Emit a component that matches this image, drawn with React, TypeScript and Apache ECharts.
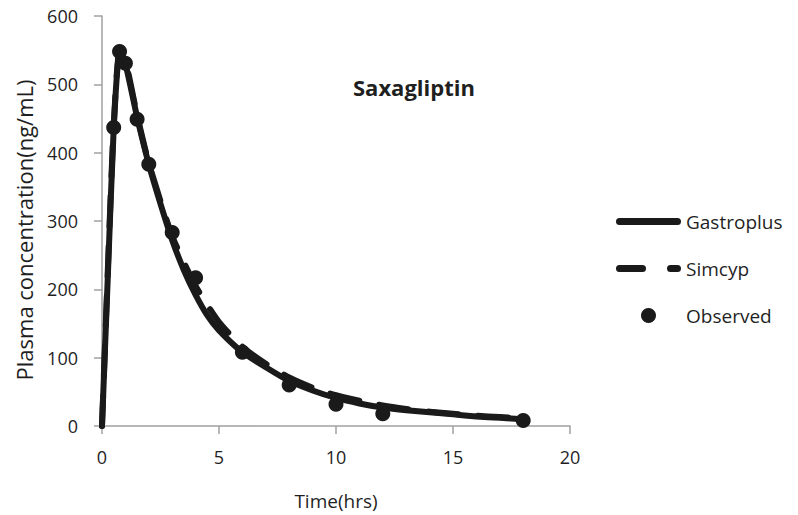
import React, { useEffect, useRef } from "react";
import * as echarts from "echarts";

const gastroTimes = [0, 0.25, 0.5, 0.75, 1, 1.5, 2, 2.5, 3, 3.5, 4, 4.5, 5, 6, 7, 8, 9, 10, 11, 12, 13, 14, 15, 16, 17, 18];
const gastroValues = [0, 220, 435, 545, 530, 452, 383, 325, 272, 228, 192, 162, 140, 108, 86, 66, 52, 41, 33, 27, 23, 20, 17, 14, 12, 10];

const simcypTimes = [0, 0.25, 0.5, 0.75, 1, 1.5, 2, 3, 4, 5, 6, 7, 8, 9, 10, 11, 12, 13, 14, 15, 16, 17, 18];
const simcypValues = [0, 230, 440, 548, 535, 455, 385, 278, 205, 152, 116, 91, 71, 56, 45, 37, 30, 25, 21, 18, 15, 13, 11];

const observedTimes = [0.5, 0.75, 1, 1.5, 2, 3, 4, 6, 8, 10, 12, 18];
const observedValues = [437, 548, 531, 449, 383, 283, 217, 108, 60, 32, 18, 8];

const xTicks = { min: 0, max: 20, interval: 5 };
const yTicks = { min: 0, max: 600, interval: 100 };

const FONT = "'Open Sans', 'Noto Sans', sans-serif";
const TEXT = "#1f1f1f";
const AXIS = "#a0a0a0";
const INK = "#1a1a1a";

const SOLID_ICON = "path://M3.5,0 L61.5,0 A3.5,3.5 0 0 1 61.5,7 L3.5,7 A3.5,3.5 0 0 1 3.5,0 Z";
const DASH_ICON =
  "path://M3.5,0 L26.5,0 A3.5,3.5 0 0 1 26.5,7 L3.5,7 A3.5,3.5 0 0 1 3.5,0 Z M54.5,0 L61.5,0 A3.5,3.5 0 0 1 61.5,7 L54.5,7 A3.5,3.5 0 0 1 54.5,0 Z";

export default function App() {
  const ref = useRef<HTMLDivElement>(null);
  useEffect(() => {
    if (!ref.current) return;
    const chart = echarts.init(ref.current, null, { renderer: "svg" });
    const zip = (a: number[], b: number[]) => a.map((t, i) => [t, b[i]]);
    chart.setOption({
      animation: false,
      backgroundColor: "#ffffff",
      textStyle: { fontFamily: FONT },
      title: {
        text: "Saxagliptin",
        left: 348,
        top: 71,
        textStyle: { fontFamily: FONT, fontSize: 22, fontWeight: "bold", color: TEXT },
      },
      grid: { left: 102, right: 228, top: 16, bottom: 88, containLabel: false },
      legend: {
        orient: "vertical",
        left: 611,
        top: 207,
        itemWidth: 65,
        itemHeight: 15,
        itemGap: 28,
        symbolKeepAspect: true,
        textStyle: { fontFamily: FONT, fontSize: 19, color: TEXT, lineHeight: 15 },
        data: [
          { name: "Gastroplus", icon: SOLID_ICON, itemStyle: { color: INK } },
          { name: "Simcyp", icon: DASH_ICON, itemStyle: { color: INK } },
          { name: "Observed", icon: "circle", itemStyle: { color: INK } },
        ],
      },
      xAxis: {
        type: "value",
        min: xTicks.min,
        max: xTicks.max,
        interval: xTicks.interval,
        name: "Time(hrs)",
        nameLocation: "middle",
        nameGap: 65,
        nameTextStyle: { fontFamily: FONT, fontSize: 19, color: TEXT },
        axisLine: { show: true, lineStyle: { color: AXIS, width: 1.5 } },
        axisTick: { show: true, length: 8, lineStyle: { color: AXIS, width: 1.5 } },
        axisLabel: { fontFamily: FONT, fontSize: 18, color: TEXT, margin: 22 },
        splitLine: { show: false },
      },
      yAxis: {
        type: "value",
        min: yTicks.min,
        max: yTicks.max,
        interval: yTicks.interval,
        name: "Plasma concentration(ng/mL)",
        nameLocation: "middle",
        nameGap: 67,
        nameTextStyle: { fontFamily: FONT, fontSize: 22, color: TEXT, padding: [0, 18, 0, 0] },
        axisLine: { show: true, lineStyle: { color: AXIS, width: 1.5 } },
        axisTick: { show: true, length: 8, lineStyle: { color: AXIS, width: 1.5 } },
        axisLabel: { fontFamily: FONT, fontSize: 18, color: TEXT, margin: 24 },
        splitLine: { show: false },
      },
      series: [
        {
          name: "Gastroplus",
          type: "line",
          data: zip(gastroTimes, gastroValues),
          showSymbol: false,
          symbol: "none",
          smooth: 0.2,
          lineStyle: { color: INK, width: 6, cap: "round", join: "round" },
          itemStyle: { color: INK },
          z: 2,
        },
        {
          name: "Simcyp",
          type: "line",
          data: zip(simcypTimes, simcypValues),
          showSymbol: false,
          symbol: "none",
          smooth: 0.2,
          lineStyle: { color: INK, width: 6, type: [30, 20], cap: "round", join: "round" },
          itemStyle: { color: INK },
          z: 3,
        },
        {
          name: "Observed",
          type: "scatter",
          data: zip(observedTimes, observedValues),
          symbol: "circle",
          symbolSize: 15,
          itemStyle: { color: INK, opacity: 1 },
          z: 4,
        },
      ],
    });
    return () => chart.dispose();
  }, []);
  return (
    <div
      ref={ref}
      style={{ position: "fixed", left: 0, top: 0, width: 798, height: 515, background: "#fff" }}
    />
  );
}
